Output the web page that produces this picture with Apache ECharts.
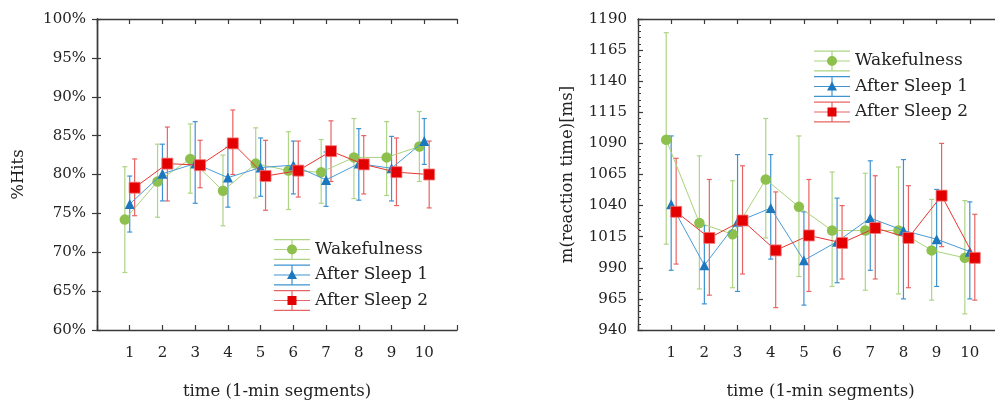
<!DOCTYPE html>
<html><head><meta charset="utf-8">
<script src="https://cdn.jsdelivr.net/npm/echarts@6/dist/echarts.min.js"></script>
<style>html,body{margin:0;padding:0;background:#fff}#c{width:995px;height:400px}</style>
</head><body><div id="c"></div>
<script>
// ---------- data ----------
const timeSegments = [1, 2, 3, 4, 5, 6, 7, 8, 9, 10];
const seriesNames = ['Wakefulness', 'After Sleep 1', 'After Sleep 2'];
const xAxisTitle = 'time (1-min segments)';
const leftYTitle = '%Hits';
const rightYTitle = 'm(reaction time)[ms]';

// Left panel: % hits (mean, lower, upper)
const hitsWake      = [74.2, 79.1, 82.0, 77.9, 81.4, 80.5, 80.3, 82.2, 82.2, 83.6];
const hitsWakeLow   = [67.4, 74.5, 77.6, 73.4, 77.0, 75.5, 76.3, 76.9, 77.3, 79.1];
const hitsWakeHigh  = [81.0, 83.9, 86.5, 82.5, 86.0, 85.5, 84.5, 87.2, 86.8, 88.1];
const hitsSleep1     = [76.2, 80.1, 81.4, 79.6, 80.9, 81.2, 79.3, 81.4, 80.8, 84.3];
const hitsSleep1Low  = [72.6, 76.6, 76.3, 75.8, 77.2, 77.5, 75.9, 76.7, 76.6, 81.3];
const hitsSleep1High = [79.8, 83.9, 86.8, 83.5, 84.7, 84.3, 82.9, 85.9, 84.9, 87.2];
const hitsSleep2     = [78.3, 81.4, 81.2, 84.0, 79.8, 80.5, 83.0, 81.3, 80.3, 80.0];
const hitsSleep2Low  = [74.7, 76.6, 78.3, 80.0, 75.4, 77.1, 79.1, 77.5, 76.0, 75.7];
const hitsSleep2High = [82.0, 86.1, 84.4, 88.3, 84.4, 84.3, 86.9, 85.0, 84.7, 84.3];

// Right panel: reaction time in ms (mean, lower, upper)
const rtWake      = [1093, 1026, 1017, 1061, 1039, 1020, 1020, 1020, 1004, 998];
const rtWakeLow   = [1009, 973, 974, 1014, 983, 975, 972, 969, 964, 953];
const rtWakeHigh  = [1179, 1080, 1060, 1110, 1096, 1067, 1066, 1071, 1045, 1044];
const rtSleep1     = [1041, 992, 1027, 1038, 996, 1011, 1030, 1020, 1013, 1003];
const rtSleep1Low  = [988, 961, 971, 997, 960, 978, 988, 965, 975, 965];
const rtSleep1High = [1096, 1024, 1081, 1081, 1035, 1046, 1076, 1077, 1053, 1043];
const rtSleep2     = [1035, 1014, 1028, 1004, 1016, 1010, 1022, 1014, 1048, 998];
const rtSleep2Low  = [993, 968, 985, 958, 971, 981, 981, 974, 1007, 964];
const rtSleep2High = [1078, 1061, 1072, 1051, 1061, 1040, 1064, 1056, 1090, 1033];

const hitsTickValues = [60, 65, 70, 75, 80, 85, 90, 95, 100];
const rtTickValues = [940, 965, 990, 1015, 1040, 1065, 1090, 1115, 1140, 1165, 1190];

// ---------- style ----------
const FONT = 'DejaVu Serif';
const TXT = '#222';
const AX = '#3a3a3a';
const xShift = [-0.15, 0, 0.15];
const markerColor = ['#8dc04d', '#1c78be', '#e40000'];
const lineColor = ['#a9d37a', '#4a9cd6', '#e83434'];
const errColor = ['#add585', '#3e93d2', '#e86464'];
const symbols = ['circle', 'triangle', 'rect'];
const symSizes = [10.5, 10, 11];

const panels = [
  { mean: [hitsWake, hitsSleep1, hitsSleep2], low: [hitsWakeLow, hitsSleep1Low, hitsSleep2Low], high: [hitsWakeHigh, hitsSleep1High, hitsSleep2High] },
  { mean: [rtWake, rtSleep1, rtSleep2], low: [rtWakeLow, rtSleep1Low, rtSleep2Low], high: [rtWakeHigh, rtSleep1High, rtSleep2High] }
];

function errRender(params, api) {
  const x = api.value(0), lo = api.value(1), hi = api.value(2);
  const pLo = api.coord([x, lo]), pHi = api.coord([x, hi]);
  const w = 2.5;
  const st = { stroke: api.visual('color'), lineWidth: 1.2, fill: null };
  return { type: 'group', children: [
    { type: 'line', shape: { x1: pLo[0], y1: pLo[1], x2: pHi[0], y2: pHi[1] }, style: st },
    { type: 'line', shape: { x1: pHi[0] - w, y1: pHi[1], x2: pHi[0] + w, y2: pHi[1] }, style: st },
    { type: 'line', shape: { x1: pLo[0] - w, y1: pLo[1], x2: pLo[0] + w, y2: pLo[1] }, style: st }
  ]};
}

const series = [];
panels.forEach((p, pi) => {
  const xIdx = pi === 0 ? 0 : 2;
  const yIdx = pi === 0 ? 0 : 2;
  for (let s = 0; s < 3; s++) {
    series.push({
      type: 'custom', name: seriesNames[s], xAxisIndex: xIdx, yAxisIndex: yIdx,
      renderItem: errRender, itemStyle: { color: errColor[s] },
      encode: { x: 0, y: [1, 2] }, z: 2, silent: true, clip: false,
      data: timeSegments.map((t, i) => [t + xShift[s], p.low[s][i], p.high[s][i]])
    });
  }
  for (let s = 0; s < 3; s++) {
    series.push({
      type: 'line', name: seriesNames[s], xAxisIndex: xIdx, yAxisIndex: yIdx,
      symbol: symbols[s], symbolSize: symSizes[s], z: 3 + s,
      itemStyle: { color: markerColor[s], borderColor: s === 2 ? '#f07a7a' : markerColor[s], borderWidth: s === 2 ? 0.8 : 0 },
      lineStyle: { color: lineColor[s], width: 1 },
      data: timeSegments.map((t, i) => [t + xShift[s], p.mean[s][i]])
    });
  }
});

function xAxisDef(grid, pos, labels) {
  return {
    type: 'value', gridIndex: grid, position: pos, min: 0, max: 11, interval: 1,
    axisLine: { show: true, onZero: false, lineStyle: { color: AX, width: 1.4 } },
    axisTick: { show: true, inside: true, length: 5, lineStyle: { color: AX, width: 1.2 } },
    axisLabel: { show: labels, fontFamily: FONT, fontSize: 15, color: TXT, margin: 16,
      formatter: v => (timeSegments.indexOf(v) >= 0 ? String(v) : '') },
    splitLine: { show: false },
    name: labels ? xAxisTitle : '', nameLocation: 'middle', nameGap: 53,
    nameTextStyle: { fontFamily: FONT, fontSize: 16.5, color: TXT }
  };
}

const legendLineIcon = 'path://M0 0H36V1.2H0Z M0 9.9H36V11.1H0Z M0 19.8H36V21H0Z M17.4 0H18.6V21H17.4Z';
const corner = 'M0 0L0.01 0L0 0.01Z M36 21L35.99 21L36 20.99Z ';
const legendMarkerIcons = [
  'path://' + corner + 'M13 10.5A5 5 0 1 0 23 10.5A5 5 0 1 0 13 10.5Z',
  'path://' + corner + 'M18 5.5L23 14.5L13 14.5Z',
  'path://' + corner + 'M13.5 6H22.5V15H13.5Z'
];

function legendPair(left, top) {
  const common = { orient: 'vertical', left: left, top: top, itemWidth: 36, itemHeight: 21, itemGap: 4.5, itemTextGap: 9,
    selectedMode: false, padding: 0 };
  return [
    Object.assign({}, common, { z: 10,
      textStyle: { fontFamily: FONT, fontSize: 17, color: TXT },
      data: seriesNames.map((n, i) => ({ name: n, icon: legendLineIcon, itemStyle: { color: errColor[i], borderWidth: 0 } })) }),
    Object.assign({}, common, { z: 11,
      textStyle: { fontFamily: FONT, fontSize: 17, color: 'rgba(0,0,0,0)' },
      data: seriesNames.map((n, i) => ({ name: n, icon: legendMarkerIcons[i], itemStyle: { color: markerColor[i], borderWidth: 0 } })) })
  ];
}

const option = {
  animation: false,
  backgroundColor: '#fff',
  grid: [
    { left: 97, top: 19, width: 360, height: 311, containLabel: false, outerBoundsMode: 'none' },
    { left: 638, top: 19, width: 365, height: 311, containLabel: false, outerBoundsMode: 'none' }
  ],
  legend: legendPair(274, 239).concat(legendPair(814, 50.5)),
  xAxis: [xAxisDef(0, 'bottom', true), xAxisDef(0, 'top', false), xAxisDef(1, 'bottom', true), xAxisDef(1, 'top', false)],
  yAxis: [
    { type: 'value', gridIndex: 0, position: 'left', min: hitsTickValues[0], max: hitsTickValues[hitsTickValues.length - 1], interval: 5,
      axisLine: { show: true, lineStyle: { color: AX, width: 1.4 } },
      axisTick: { show: true, inside: true, length: 4, lineStyle: { color: AX, width: 1.2 } },
      axisLabel: { fontFamily: FONT, fontSize: 15, color: TXT, margin: 11, formatter: v => (hitsTickValues.indexOf(v) >= 0 ? v + '%' : '') },
      splitLine: { show: false },
      name: leftYTitle, nameLocation: 'middle', nameGap: 70, nameTextStyle: { fontFamily: FONT, fontSize: 16.5, color: TXT } },
    { type: 'value', gridIndex: 0, position: 'right', min: 60, max: 100, interval: 5,
      axisLine: { show: true, lineStyle: { color: AX, width: 1.4 } },
      axisTick: { show: true, inside: true, length: 5, lineStyle: { color: AX, width: 1.2 } },
      axisLabel: { show: false }, splitLine: { show: false } },
    { type: 'value', gridIndex: 1, position: 'left', min: rtTickValues[0], max: rtTickValues[rtTickValues.length - 1], interval: 5,
      axisLine: { show: true, lineStyle: { color: AX, width: 1.4 } },
      axisTick: { show: true, inside: true, length: 3, lineStyle: { color: AX, width: 1 } },
      axisLabel: { fontFamily: FONT, fontSize: 15, color: TXT, margin: 11, formatter: v => (rtTickValues.indexOf(v) >= 0 ? String(v) : '') },
      splitLine: { show: false },
      name: rightYTitle, nameLocation: 'middle', nameGap: 62, nameTextStyle: { fontFamily: FONT, fontSize: 16.5, color: TXT } },
    { type: 'value', gridIndex: 1, position: 'left', min: 0, max: 250, interval: 25,
      axisLine: { show: false },
      axisTick: { show: true, inside: true, length: 5, lineStyle: { color: AX, width: 1.2 } },
      axisLabel: { show: false }, splitLine: { show: false } }
  ],
  series: series
};

const chart = echarts.init(document.getElementById('c'), null, { renderer: 'canvas' });
chart.setOption(option);
</script>
</body></html>
